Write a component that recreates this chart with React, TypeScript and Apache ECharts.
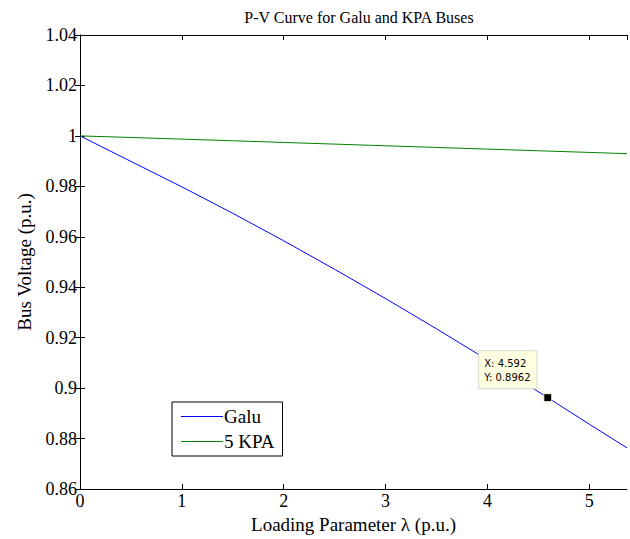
import React, { useEffect, useRef } from "react";
import * as echarts from "echarts";

const lambdaValues = [0, 0.5, 1.0, 1.5, 2.0, 2.5, 3.0, 3.5, 4.0, 4.592, 5.0, 5.37];
const galuVoltage = [1.0, 0.9899, 0.9798, 0.9693, 0.9584, 0.9471, 0.9355, 0.9235, 0.9112, 0.8962, 0.8857, 0.8763];
const kpaVoltage = [1.0, 0.99937, 0.99872, 0.99806, 0.9974, 0.99674, 0.99608, 0.99542, 0.99476, 0.99398, 0.99344, 0.99295];
const seriesNames = ["Galu", "5 KPA"];
const dataTip = { x: 4.592, y: 0.8962 };

const serif = "Liberation Serif";

export default function App() {
  const ref = useRef<HTMLDivElement>(null);
  useEffect(() => {
    if (!ref.current) return;
    const chart = echarts.init(ref.current, null, { renderer: "svg" });
    const galu = lambdaValues.map((x, i) => [x, galuVoltage[i]]);
    const kpa = lambdaValues.map((x, i) => [x, kpaVoltage[i]]);
    const xCommon = {
      type: "value",
      min: 0,
      max: 5.37,
      interval: 1,
      splitLine: { show: false },
      axisLine: { show: true, lineStyle: { color: "#000", width: 1 } },
      axisTick: { show: true, inside: true, length: 5, lineStyle: { color: "#000" } },
    };
    const yCommon = {
      type: "value",
      min: 0.86,
      max: 1.04,
      interval: 0.02,
      splitLine: { show: false },
      axisLine: { show: true, lineStyle: { color: "#000", width: 1 } },
      axisTick: { show: true, inside: true, length: 5, lineStyle: { color: "#000" } },
    };
    chart.setOption({
      animation: false,
      backgroundColor: "#fff",
      textStyle: { fontFamily: serif, color: "#000" },
      title: {
        text: "P-V Curve for Galu and KPA Buses",
        left: 354,
        top: 4,
        textAlign: "center",
        textStyle: { fontFamily: serif, fontSize: 16, fontWeight: "normal", color: "#000" },
      },
      grid: { left: 80, right: 3, top: 35, bottom: 49, show: false },
      legend: {
        data: seriesNames.map((n) => ({ name: n, icon: "rect" })),
        orient: "vertical",
        left: 172,
        top: 402,
        backgroundColor: "#fff",
        borderColor: "#000",
        borderWidth: 1,
        borderRadius: 0,
        padding: [5, 8, 5, 9],
        itemGap: 6,
        itemWidth: 42,
        itemHeight: 1,
        textStyle: { fontFamily: serif, fontSize: 19, color: "#000", padding: [0, 0, 0, -4] },
      },
      xAxis: [
        {
          ...xCommon,
          position: "bottom",
          name: "Loading Parameter λ (p.u.)",
          nameLocation: "middle",
          nameGap: 26,
          nameTextStyle: { fontFamily: serif, fontSize: 19, color: "#000" },
          axisLabel: {
            fontFamily: serif,
            fontSize: 18,
            color: "#000",
            margin: 3,
            showMaxLabel: false,
            formatter: (v: number) => (Math.abs(v - Math.round(v)) < 1e-9 ? String(Math.round(v)) : ""),
          },
        },
        { ...xCommon, position: "top", axisLabel: { show: false } },
      ],
      yAxis: [
        {
          ...yCommon,
          position: "left",
          name: "Bus Voltage (p.u.)",
          nameLocation: "middle",
          nameGap: 46,
          nameTextStyle: { fontFamily: serif, fontSize: 19, color: "#000" },
          axisLabel: {
            fontFamily: serif,
            fontSize: 18,
            color: "#000",
            margin: 3,
            formatter: (v: number) => String(parseFloat(v.toFixed(2))),
          },
        },
        { ...yCommon, position: "right", axisLabel: { show: false } },
      ],
      series: [
        {
          name: seriesNames[0],
          type: "line",
          data: galu,
          showSymbol: false,
          symbol: "none",
          lineStyle: { color: "#0000ff", width: 1 },
          itemStyle: { color: "#0000ff" },
          markPoint: {
            symbol: "rect",
            symbolSize: 8,
            itemStyle: { color: "#000", borderColor: "#ffffe1", borderWidth: 1 },
            data: [{ coord: [dataTip.x, dataTip.y] }],
            label: {
              show: true,
              position: [-64, -42],
              formatter: `X: ${dataTip.x}\nY: ${dataTip.y}`,
              fontFamily: "DejaVu Sans",
              fontSize: 10,
              lineHeight: 14,
              color: "#000",
              backgroundColor: "#ffffe1",
              borderColor: "#d8d8c8",
              borderWidth: 1,
              padding: [5, 6, 4, 5],
            },
          },
        },
        {
          name: seriesNames[1],
          type: "line",
          data: kpa,
          showSymbol: false,
          symbol: "none",
          lineStyle: { color: "#008000", width: 1 },
          itemStyle: { color: "#008000" },
        },
      ],
    });
    return () => chart.dispose();
  }, []);
  return <div ref={ref} style={{ width: 630, height: 539, position: "absolute", left: 0, top: 0 }} />;
}
